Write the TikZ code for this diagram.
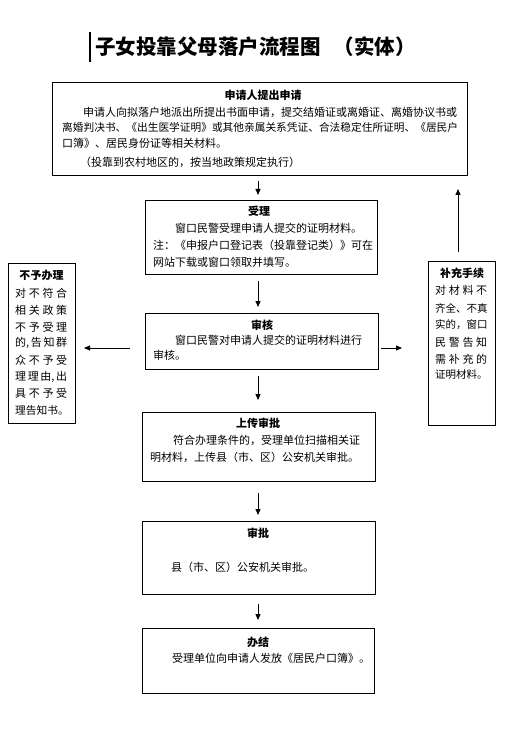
\documentclass[tikz,border=0pt]{standalone}
\usepackage{fontspec}
\setmainfont{Noto Sans CJK SC}
\usetikzlibrary{calc,arrows.meta}
\begin{document}
\begin{tikzpicture}[x=1pt,y=-1pt,
  box/.style={draw, line width=1pt, inner sep=0pt, anchor=north west},
  ttl/.style={inner sep=0pt, anchor=center, font=\fontsize{11}{13}\selectfont\bfseries},
  txt/.style={inner sep=0pt, anchor=west, font=\fontsize{11}{13}\selectfont},
  arr/.style={line width=0.9pt, -{Triangle[length=6pt,width=5pt]}}]
\useasboundingbox[fill=white] (0,0) rectangle (524,751);
% title
\draw[line width=1.8pt] (90,32) -- (90,62);
\node[inner sep=0pt, anchor=west, font=\fontsize{20.5}{24}\selectfont\bfseries] (title) at (95,47) {子女投靠父母落户流程图\hspace{13pt}（实体）};
% boxes
\node[box, minimum width=415pt, minimum height=93pt] (b1) at (52,82) {};
\node[box, minimum width=232pt, minimum height=74pt] (b2) at (145,200) {};
\node[box, minimum width=233pt, minimum height=56pt] (b3) at (145,313) {};
\node[box, minimum width=233pt, minimum height=69pt] (b4) at (142,412) {};
\node[box, minimum width=233pt, minimum height=73pt] (b5) at (142,521) {};
\node[box, minimum width=232pt, minimum height=65pt] (b6) at (142,628) {};
\node[box, minimum width=67pt, minimum height=160pt] (lb) at (8,263) {};
\node[box, minimum width=67pt, minimum height=164pt] (rb) at (428,261) {};
% box 1 text
\node[ttl] (b1t) at (263,95) {申请人提出申请};
\node[txt] (b1a) at (83,112) {申请人向拟落户地派出所提出书面申请，提交结婚证或离婚证、离婚协议书或};
\node[txt, font=\fontsize{10.7}{13}\selectfont] (b1b) at (62,127) {离婚判决书、《出生医学证明》或其他亲属关系凭证、合法稳定住所证明、《居民户};
\node[txt] (b1c) at (62,143) {口簿》、居民身份证等相关材料。};
\node[txt] (b1d) at (80,162) {（投靠到农村地区的，按当地政策规定执行）};
% box 2 text
\node[ttl] (b2t) at (259,211) {受理};
\node[txt] (b2a) at (175,228) {窗口民警受理申请人提交的证明材料。};
\node[txt] (b2b) at (153,245) {注：《申报户口登记表（投靠登记类）》可在};
\node[txt] (b2c) at (153,262) {网站下载或窗口领取并填写。};
% box 3 text
\node[ttl] (b3t) at (262,325) {审核};
\node[txt] (b3a) at (175,340) {窗口民警对申请人提交的证明材料进行};
\node[txt] (b3b) at (153,355) {审核。};
% box 4 text
\node[ttl] (b4t) at (258,423) {上传审批};
\node[txt] (b4a) at (173,440) {符合办理条件的，受理单位扫描相关证};
\node[txt] (b4b) at (150,457) {明材料，上传县（市、区）公安机关审批。};
% box 5 text
\node[ttl] (b5t) at (258,533) {审批};
\node[txt] (b5a) at (171,567) {县（市、区）公安机关审批。};
% box 6 text
\node[ttl] (b6t) at (258,642) {办结};
\node[txt] (b6a) at (172,658) {受理单位向申请人发放《居民户口簿》。};
% left box text
\node[ttl] (lbt) at (41.5,275) {不予办理};
\node[txt] (lb1) at (15,293) {\makebox[52pt]{对\hfill 不\hfill 符\hfill 合}};
\node[txt] (lb2) at (15,310) {\makebox[52pt]{相\hfill 关\hfill 政\hfill 策}};
\node[txt] (lb3) at (15,327) {\makebox[52pt]{不\hfill 予\hfill 受\hfill 理}};
\node[txt] (lb4) at (15,343) {\makebox[52pt]{的,\hfill 告\hfill 知\hfill 群}};
\node[txt] (lb5) at (15,360) {\makebox[52pt]{众\hfill 不\hfill 予\hfill 受}};
\node[txt] (lb6) at (15,377) {\makebox[52pt]{理\hfill 理\hfill 由,\hfill 出}};
\node[txt] (lb7) at (15,393) {\makebox[52pt]{具\hfill 不\hfill 予\hfill 受}};
\node[txt, font=\fontsize{10.7}{13}\selectfont] (lb8) at (15,410) {理告知书。};
% right box text
\node[ttl] (rbt) at (462,273) {补充手续};
\node[txt] (rb1) at (435,290) {\makebox[52pt]{对\hfill 材\hfill 料\hfill 不}};
\node[txt, font=\fontsize{10.5}{13}\selectfont] (rb2) at (435,308) {齐全、不真};
\node[txt, font=\fontsize{10.5}{13}\selectfont] (rb3) at (435,325) {实的，窗口};
\node[txt] (rb4) at (435,342) {\makebox[52pt]{民\hfill 警\hfill 告\hfill 知}};
\node[txt] (rb5) at (435,359) {\makebox[52pt]{需\hfill 补\hfill 充\hfill 的}};
\node[txt, font=\fontsize{10.5}{13}\selectfont] (rb6) at (435,375) {证明材料。};
% connectors
\coordinate (ax) at (258,0);
\coordinate (ay) at (0,348);
\coordinate (ux) at (458,0);
\draw[arr] ($(b1.south -| ax)+(0,5)$) -- ($(b2.north -| ax)+(0,-5)$);
\draw[arr] ($(b2.south -| ax)+(0,6)$) -- ($(b3.north -| ax)+(0,-6)$);
\draw[arr] ($(b3.south -| ax)+(0,6)$) -- ($(b4.north -| ax)+(0,-12)$);
\draw[arr] ($(b4.south -| ax)+(0,11)$) -- ($(b5.north -| ax)+(0,-6)$);
\draw[arr] ($(b5.south -| ax)+(0,9)$) -- ($(b6.north -| ax)+(0,-8)$);
\draw[arr] ($(b3.west |- ay)+(-15,0)$) -- ($(lb.east |- ay)+(8,0)$);
\draw[arr] ($(b3.east |- ay)+(2,0)$) -- ($(rb.west |- ay)+(-26,0)$);
\draw[arr] ($(rb.north -| ux)+(0,-9)$) -- ($(b1.south -| ux)+(0,13)$);
\end{tikzpicture}
\end{document}
